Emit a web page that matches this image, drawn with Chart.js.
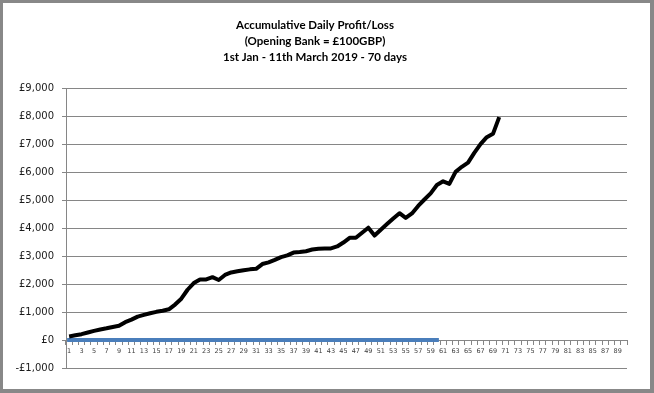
<!DOCTYPE html>
<html>
<head>
<meta charset="utf-8">
<script src="https://cdn.jsdelivr.net/npm/chart.js@4/dist/chart.umd.min.js"></script>
<style>
  html, body { margin: 0; padding: 0; background: #888888; }
  #wrap { position: absolute; left: 3px; top: 3px; width: 647px; height: 386px; background: #fff; }
</style>
</head>
<body>
<div id="wrap"><canvas id="profitChart" width="647" height="386"></canvas></div>
<script>
// Day numbers shown on the category axis (1..90)
const days = [];
for (let d = 1; d <= 90; d++) days.push(String(d));

// Accumulative profit/loss in GBP (70 days)
const profit = [
  130, 170, 210, 270, 330, 380, 420, 470, 510, 640,
  730, 840, 900, 960, 1010, 1050, 1100, 1270, 1480, 1800,
  2040, 2170, 2170, 2250, 2150, 2330, 2420, 2460, 2500, 2530,
  2550, 2720, 2780, 2870, 2970, 3030, 3130, 3150, 3180, 3240,
  3270, 3280, 3280, 3350, 3490, 3660, 3660, 3840, 4020, 3740,
  3950, 4150, 4350, 4540, 4370, 4530, 4800, 5030, 5250, 5550,
  5680, 5590, 6020, 6200, 6350, 6700, 7010, 7260, 7380, 7980
];

// Second series sitting flat on zero for the first 60 days
const baseline = [
  0, 0, 0, 0, 0, 0, 0, 0, 0, 0,
  0, 0, 0, 0, 0, 0, 0, 0, 0, 0,
  0, 0, 0, 0, 0, 0, 0, 0, 0, 0,
  0, 0, 0, 0, 0, 0, 0, 0, 0, 0,
  0, 0, 0, 0, 0, 0, 0, 0, 0, 0,
  0, 0, 0, 0, 0, 0, 0, 0, 0, 0
];

const titleLines = [
  'Accumulative Daily Profit/Loss',
  '(Opening Bank = £100GBP)',
  '1st Jan - 11th March 2019 - 70 days'
];

const gridGrey = '#868686';

const ctx = document.getElementById('profitChart').getContext('2d');
const profitChart = new Chart(ctx, {
    type: 'line',
    data: {
        labels: days,
        datasets: [{
            label: 'Profit/Loss',
            data: profit,
            borderColor: '#000000',
            borderWidth: 4,
            borderJoinStyle: 'round',
            pointRadius: 0,
            tension: 0,
            fill: false
        }, {
            label: 'Zero',
            data: baseline,
            borderColor: '#4A7EBB',
            borderWidth: 4,
            borderCapStyle: 'square',
            pointRadius: 0,
            tension: 0,
            fill: false
        }]
    },
    options: {
        responsive: false,
        animation: false,
        layout: { padding: { left: 0, right: 23, top: 0, bottom: 21 } },
        plugins: {
            legend: { display: false },
            tooltip: { enabled: false },
            title: {
                display: true,
                text: titleLines,
                color: '#000',
                font: { family: 'Lato', size: 11.5, weight: 'bold', lineHeight: 1.35 },
                padding: { top: 15, bottom: 24 }
            }
        },
        scales: {
            x: {
                position: { y: 0 },
                offset: true,
                grid: {
                    offset: true,
                    drawOnChartArea: false,
                    drawTicks: true,
                    tickLength: 4,
                    color: gridGrey
                },
                border: { display: true, color: gridGrey },
                ticks: {
                    autoSkip: false,
                    maxRotation: 0,
                    padding: 3,
                    color: '#404040',
                    font: { family: 'DejaVu Sans', size: 6.5 },
                    callback: function (value, index) {
                        return index % 2 === 0 ? days[index] : '';
                    }
                }
            },
            y: {
                min: -1000,
                max: 9000,
                afterFit: function (scale) { scale.width = 63; },
                grid: { color: gridGrey, tickLength: 4 },
                border: { display: true, color: gridGrey },
                ticks: {
                    stepSize: 1000,
                    padding: 8,
                    color: '#1a1a1a',
                    font: { family: 'DejaVu Sans', size: 10 },
                    callback: function (value) {
                        const abs = Math.abs(value).toLocaleString('en-GB');
                        return (value < 0 ? '-' : '') + '£' + abs;
                    }
                }
            }
        }
    }
});
</script>
</body>
</html>
